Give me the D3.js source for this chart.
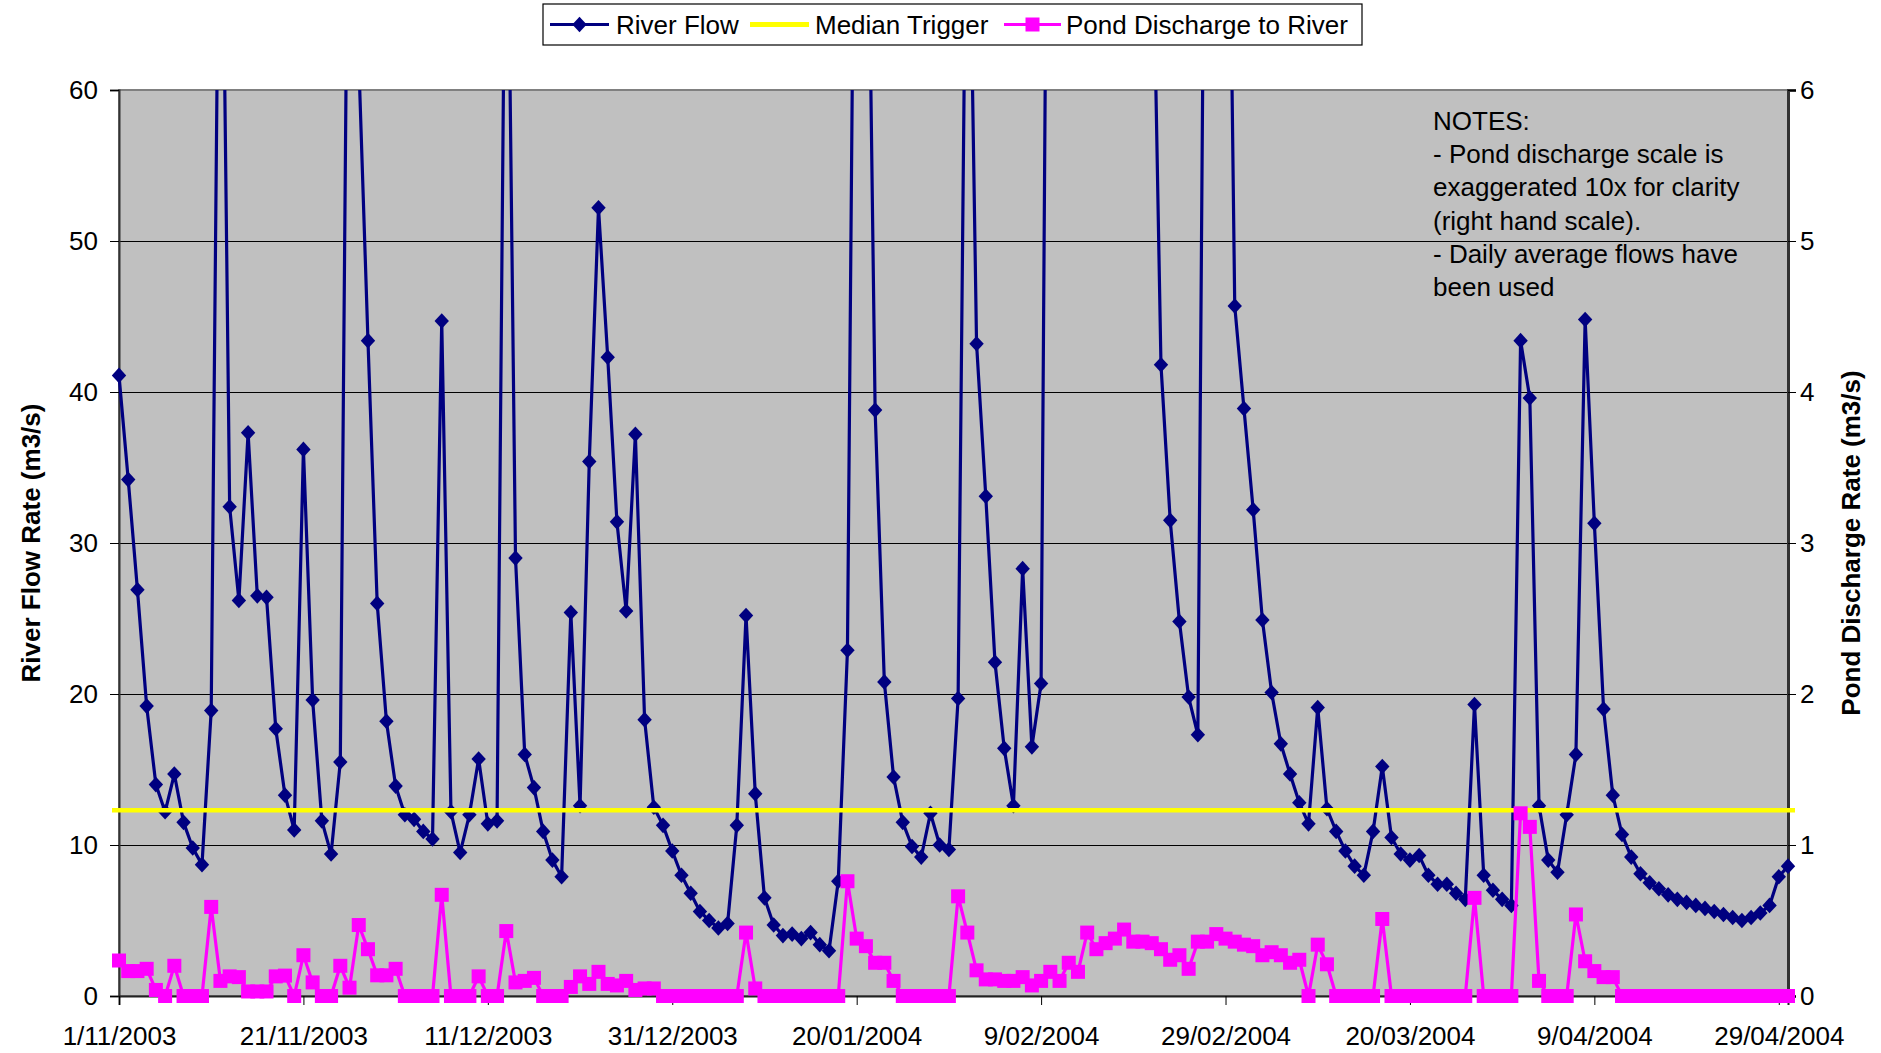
<!DOCTYPE html>
<html><head><meta charset="utf-8">
<script src="https://cdn.jsdelivr.net/npm/d3@7"></script>
<style>
body{margin:0;background:#fff;}
svg{display:block;font-family:"Liberation Sans",Arial,sans-serif;}
</style>
</head><body>
<svg id="chart" width="1881" height="1053"></svg>
<script>
// ---------------- DATA ----------------
const startDate = "2003-11-01";   // first daily value
const seriesNames = ["River Flow", "Median Trigger", "Pond Discharge to River"];

// River flow, m3/s (daily averages, left scale). Values above 60 run off the top of the chart.
const riverFlow = [
  41.1, 34.2, 26.9, 19.2, 14.0, 12.2, 14.7, 11.5, 9.8, 8.7,
  18.9, 85, 32.4, 26.2, 37.3, 26.5, 26.4, 17.7, 13.3, 11.0,
  36.2, 19.6, 11.6, 9.4, 15.5, 88, 62, 43.4, 26.0, 18.2,
  13.9, 12.0, 11.7, 10.9, 10.4, 44.7, 12.2, 9.5, 12.0, 15.7,
  11.4, 11.6, 82, 29.0, 16.0, 13.8, 10.9, 9.0, 7.9, 25.4,
  12.6, 35.4, 52.2, 42.3, 31.4, 25.5, 37.2, 18.3, 12.5, 11.3,
  9.6, 8.0, 6.8, 5.6, 5.0, 4.5, 4.8, 11.3, 25.2, 13.4,
  6.5, 4.7, 4.0, 4.1, 3.8, 4.2, 3.4, 3.0, 7.6, 22.9,
  95, 85, 38.8, 20.8, 14.5, 11.5, 9.9, 9.2, 12.1, 10.0,
  9.7, 19.7, 82, 43.2, 33.1, 22.1, 16.4, 12.6, 28.3, 16.5,
  20.7, 110, 150, 170, 140, 120, 105, 95, 90, 88,
  84, 80, 75, 41.8, 31.5, 24.8, 19.8, 17.3, 100, 110,
  95, 45.7, 38.9, 32.2, 24.9, 20.1, 16.7, 14.7, 12.8, 11.4,
  19.1, 12.4, 10.9, 9.6, 8.6, 8.0, 10.9, 15.2, 10.5, 9.4,
  9.0, 9.3, 8.0, 7.4, 7.4, 6.8, 6.4, 19.3, 8.0, 7.0,
  6.4, 6.0, 43.4, 39.6, 12.6, 9.0, 8.2, 12.0, 16.0, 44.8,
  31.3, 19.0, 13.3, 10.7, 9.2, 8.1, 7.5, 7.1, 6.7, 6.4,
  6.2, 6.0, 5.8, 5.6, 5.4, 5.2, 5.0, 5.2, 5.5, 6.0,
  7.9, 8.6
];

// Pond discharge to river, m3/s (right scale)
const pondDischarge = [
  0.235, 0.165, 0.165, 0.18, 0.04, 0, 0.2, 0, 0, 0,
  0.59, 0.1, 0.13, 0.125, 0.03, 0.03, 0.03, 0.13, 0.135, 0,
  0.27, 0.09, 0, 0, 0.2, 0.055, 0.47, 0.31, 0.137, 0.137,
  0.18, 0, 0, 0, 0, 0.67, 0, 0, 0, 0.13,
  0, 0, 0.43, 0.09, 0.1, 0.12, 0, 0, 0, 0.06,
  0.13, 0.08, 0.16, 0.08, 0.07, 0.1, 0.04, 0.05, 0.05, 0,
  0, 0, 0, 0, 0, 0, 0, 0, 0.42, 0.05,
  0, 0, 0, 0, 0, 0, 0, 0, 0, 0.76,
  0.38, 0.33, 0.22, 0.22, 0.1, 0, 0, 0, 0, 0,
  0, 0.66, 0.42, 0.17, 0.11, 0.11, 0.1, 0.1, 0.125, 0.07,
  0.1, 0.16, 0.1, 0.22, 0.16, 0.42, 0.31, 0.35, 0.38, 0.44,
  0.36, 0.36, 0.35, 0.31, 0.24, 0.27, 0.18, 0.36, 0.36, 0.41,
  0.38, 0.36, 0.34, 0.33, 0.27, 0.29, 0.27, 0.22, 0.24, 0,
  0.34, 0.21, 0, 0, 0, 0, 0, 0.51, 0, 0,
  0, 0, 0, 0, 0, 0, 0, 0.65, 0, 0,
  0, 0, 1.21, 1.12, 0.1, 0, 0, 0, 0.54, 0.23,
  0.165, 0.125, 0.125, 0, 0, 0, 0, 0, 0, 0,
  0, 0, 0, 0, 0, 0, 0, 0, 0, 0,
  0, 0
];

const medianTrigger = 12.3;   // m3/s, left scale

const xTickLabels = ["1/11/2003", "21/11/2003", "11/12/2003", "31/12/2003", "20/01/2004",
                     "9/02/2004", "29/02/2004", "20/03/2004", "9/04/2004", "29/04/2004"];
const leftTicks = [0, 10, 20, 30, 40, 50, 60];
const rightTicks = [0, 1, 2, 3, 4, 5, 6];
const leftTitle = "River Flow Rate (m3/s)";
const rightTitle = "Pond Discharge Rate (m3/s)";
const notes = ["NOTES:", "- Pond discharge scale is", "exaggerated 10x for clarity",
               "(right hand scale).", "- Daily average flows have", "been used"];

// ---------------- LAYOUT ----------------
const P = {left: 119, right: 1788, top: 90, bottom: 996};
const NAVY = "#000080", PINK = "#FF00FF", YELLOW = "#FFFF00";
const FONT = "'Liberation Sans', Arial, sans-serif";

const svg = d3.select("#chart");
const start = d3.utcParse("%Y-%m-%d")(startDate);
const dates = riverFlow.map((_, i) => d3.utcDay.offset(start, i));
const tickDates = xTickLabels.map(s => d3.utcParse("%d/%m/%Y")(s));

const x = d3.scaleUtc().domain([dates[0], dates[dates.length - 1]]).range([P.left, P.right]);
const yL = d3.scaleLinear().domain([0, 60]).range([P.bottom, P.top]);
const yR = d3.scaleLinear().domain([0, 6]).range([P.bottom, P.top]);

// plot background
svg.append("rect").attr("x", P.left).attr("y", P.top)
  .attr("width", P.right - P.left).attr("height", P.bottom - P.top).attr("fill", "#C0C0C0");

// gridlines
svg.append("g").selectAll("line").data(leftTicks.filter(v => v > 0 && v < 60)).join("line")
  .attr("x1", P.left).attr("x2", P.right)
  .attr("y1", d => yL(d)).attr("y2", d => yL(d))
  .attr("stroke", "#000").attr("stroke-width", 1).attr("shape-rendering", "crispEdges");

// border
svg.append("rect").attr("x", P.left).attr("y", P.top)
  .attr("width", P.right - P.left).attr("height", P.bottom - P.top)
  .attr("fill", "none").attr("stroke", "#808080").attr("stroke-width", 2);

const fontSize = 26;

// left axis
const gL = svg.append("g").attr("transform", `translate(${P.left},0)`)
  .call(d3.axisLeft(yL).tickValues(leftTicks).tickSize(9).tickPadding(12).tickFormat(d3.format("d")));
gL.select(".domain").attr("stroke", "#333").attr("stroke-width", 2);
gL.selectAll(".tick line").attr("stroke", "#000");
gL.selectAll("text").attr("font-size", fontSize).attr("font-family", FONT).attr("fill", "#000");

// right axis
const gR = svg.append("g").attr("transform", `translate(${P.right},0)`)
  .call(d3.axisRight(yR).tickValues(rightTicks).tickSize(8).tickPadding(4).tickFormat(d3.format("d")));
gR.select(".domain").attr("stroke", "#333").attr("stroke-width", 3);
gR.selectAll(".tick line").attr("stroke", "#000");
gR.selectAll("text").attr("font-size", fontSize).attr("font-family", FONT).attr("fill", "#000");

// bottom axis
const gB = svg.append("g").attr("transform", `translate(0,${P.bottom})`)
  .call(d3.axisBottom(x).tickValues(tickDates).tickSize(9).tickPadding(22)
    .tickFormat((d, i) => xTickLabels[i]));
gB.select(".domain").attr("stroke", "#222").attr("stroke-width", 2);
gB.selectAll(".tick line").attr("stroke", "#000");
gB.selectAll("text").attr("font-size", fontSize).attr("font-family", FONT).attr("fill", "#000");

// axis titles
svg.append("text").attr("transform", `translate(40,${(P.top + P.bottom) / 2}) rotate(-90)`)
  .attr("text-anchor", "middle").attr("font-weight", "bold").attr("font-size", fontSize)
  .attr("font-family", FONT).text(leftTitle);
svg.append("text").attr("transform", `translate(1860,${(P.top + P.bottom) / 2}) rotate(-90)`)
  .attr("text-anchor", "middle").attr("font-weight", "bold").attr("font-size", fontSize)
  .attr("font-family", FONT).text(rightTitle);

// clip for river flow (values above 60 run off the top)
svg.append("clipPath").attr("id", "clipTop").append("rect")
  .attr("x", 0).attr("y", P.top).attr("width", 1881).attr("height", 1053 - P.top);

const diamond = "M0,-7.8L7.2,0L0,7.8L-7.2,0Z";

const riverData = riverFlow.map((v, i) => ({d: dates[i], v}));
const gRiver = svg.append("g").attr("clip-path", "url(#clipTop)");
gRiver.append("path").datum(riverData)
  .attr("d", d3.line().x(p => x(p.d)).y(p => yL(p.v)))
  .attr("fill", "none").attr("stroke", NAVY).attr("stroke-width", 3.2).attr("stroke-linejoin", "round");
gRiver.selectAll("path.m").data(riverData.filter(p => p.v <= 60)).join("path").attr("class", "m")
  .attr("d", diamond).attr("transform", p => `translate(${x(p.d)},${yL(p.v)})`).attr("fill", NAVY);

// median trigger
svg.append("line")
  .attr("x1", x(dates[0]) - 7).attr("x2", x(dates[dates.length - 1]) + 7)
  .attr("y1", yL(medianTrigger)).attr("y2", yL(medianTrigger))
  .attr("stroke", YELLOW).attr("stroke-width", 4.5);

// pond discharge
const pondData = pondDischarge.map((v, i) => ({d: dates[i], v}));
svg.append("path").datum(pondData)
  .attr("d", d3.line().x(p => x(p.d)).y(p => yR(p.v)))
  .attr("fill", "none").attr("stroke", PINK).attr("stroke-width", 3.2).attr("stroke-linejoin", "round");
const sq = 14;
svg.append("g").selectAll("rect").data(pondData).join("rect")
  .attr("x", p => x(p.d) - sq / 2).attr("y", p => yR(p.v) - sq / 2)
  .attr("width", sq).attr("height", sq).attr("fill", PINK);

// notes
const tNotes = svg.append("text").attr("x", 1433).attr("y", 130).attr("font-size", fontSize)
  .attr("font-family", FONT).attr("fill", "#000");
tNotes.selectAll("tspan").data(notes).join("tspan")
  .attr("x", 1433).attr("dy", (d, i) => i === 0 ? 0 : 33.2).text(d => d);

// legend
const lg = svg.append("g");
lg.append("rect").attr("x", 543).attr("y", 4).attr("width", 819).attr("height", 41)
  .attr("fill", "#fff").attr("stroke", "#000").attr("stroke-width", 1.2);
const ly = 24.5;
const legendItems = [
  {name: seriesNames[0], x1: 550, x2: 609, tx: 616, color: NAVY, w: 3, marker: "diamond"},
  {name: seriesNames[1], x1: 750, x2: 809, tx: 815, color: YELLOW, w: 5, marker: null},
  {name: seriesNames[2], x1: 1004, x2: 1061, tx: 1066, color: PINK, w: 3, marker: "square"}
];
legendItems.forEach(it => {
  lg.append("line").attr("x1", it.x1).attr("x2", it.x2).attr("y1", ly).attr("y2", ly)
    .attr("stroke", it.color).attr("stroke-width", it.w);
  const cx = (it.x1 + it.x2) / 2;
  if (it.marker === "diamond") lg.append("path").attr("d", diamond).attr("transform", `translate(${cx},${ly})`).attr("fill", it.color);
  if (it.marker === "square") lg.append("rect").attr("x", cx - sq / 2).attr("y", ly - sq / 2).attr("width", sq).attr("height", sq).attr("fill", it.color);
  lg.append("text").attr("x", it.tx).attr("y", ly + 9.5).attr("font-size", fontSize)
    .attr("font-family", FONT).attr("fill", "#000").text(it.name);
});
</script>
</body></html>
